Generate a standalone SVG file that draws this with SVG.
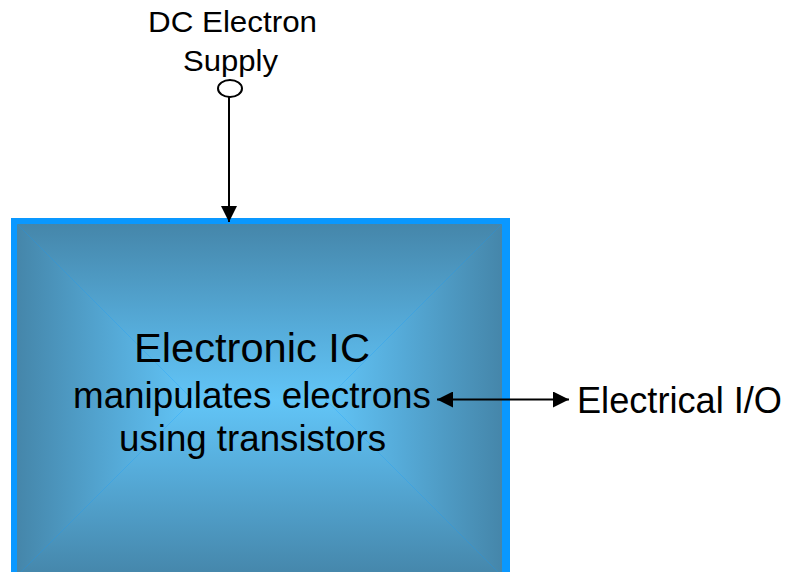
<svg xmlns="http://www.w3.org/2000/svg" width="787" height="572" viewBox="0 0 787 572">
  <defs>
    <style>
      text { font-family: "Liberation Sans", Arial, sans-serif; fill: #000; }
      .conn { stroke: #000; stroke-width: 2; fill: none; }
    </style>
    <linearGradient id="gTop" gradientUnits="userSpaceOnUse" x1="0" y1="224" x2="0" y2="400">
      <stop offset="0" stop-color="#4586AA"/><stop offset="0.6" stop-color="#56ACDA"/><stop offset="1" stop-color="#62C5F7"/>
    </linearGradient>
    <linearGradient id="gBot" gradientUnits="userSpaceOnUse" x1="0" y1="576" x2="0" y2="400">
      <stop offset="0" stop-color="#4586AA"/><stop offset="0.6" stop-color="#56ACDA"/><stop offset="1" stop-color="#62C5F7"/>
    </linearGradient>
    <linearGradient id="gLeft" gradientUnits="userSpaceOnUse" x1="17" y1="0" x2="193" y2="0">
      <stop offset="0" stop-color="#4586AA"/><stop offset="0.6" stop-color="#56ACDA"/><stop offset="1" stop-color="#62C5F7"/>
    </linearGradient>
    <linearGradient id="gRight" gradientUnits="userSpaceOnUse" x1="502" y1="0" x2="326" y2="0">
      <stop offset="0" stop-color="#4586AA"/><stop offset="0.6" stop-color="#56ACDA"/><stop offset="1" stop-color="#62C5F7"/>
    </linearGradient>
    <marker id="ah" viewBox="0 0 16 16" refX="16" refY="8" markerWidth="16" markerHeight="16" markerUnits="userSpaceOnUse" orient="auto-start-reverse">
      <path d="M0,0 L16,8 L0,16 Z" fill="#000"/>
    </marker>
  </defs>

  <g id="ic-box">
    <rect x="11" y="218" width="499" height="360" fill="#0A98FF"/>
    <polygon points="17,224 502,224 326,400 193,400" fill="url(#gTop)"/>
    <polygon points="17,576 502,576 326,400 193,400" fill="url(#gBot)"/>
    <polygon points="17,224 193,400 17,576" fill="url(#gLeft)"/>
    <polygon points="502,224 326,400 502,576" fill="url(#gRight)"/>
    <text x="134" y="362" font-size="41" textLength="236" lengthAdjust="spacingAndGlyphs">Electronic IC</text>
    <text x="73" y="408" font-size="36" textLength="358" lengthAdjust="spacingAndGlyphs">manipulates electrons</text>
    <text x="119" y="451" font-size="36" textLength="267" lengthAdjust="spacingAndGlyphs">using transistors</text>
  </g>

  <g id="dc-supply">
    <text x="148" y="32" font-size="30" textLength="169" lengthAdjust="spacingAndGlyphs">DC Electron</text>
    <text x="183" y="71" font-size="30" textLength="95" lengthAdjust="spacingAndGlyphs">Supply</text>
    <ellipse cx="230" cy="88.5" rx="12" ry="8.5" fill="#fff" stroke="#000" stroke-width="2"/>
  </g>

  <g id="electrical-io">
    <text x="577" y="413" font-size="36" textLength="205" lengthAdjust="spacingAndGlyphs">Electrical I/O</text>
  </g>

  <g id="connectors">
    <line class="conn" x1="229" y1="97" x2="229" y2="222" marker-end="url(#ah)"/>
    <line class="conn" x1="437" y1="399.5" x2="569" y2="399.5" marker-start="url(#ah)" marker-end="url(#ah)"/>
  </g>
</svg>
